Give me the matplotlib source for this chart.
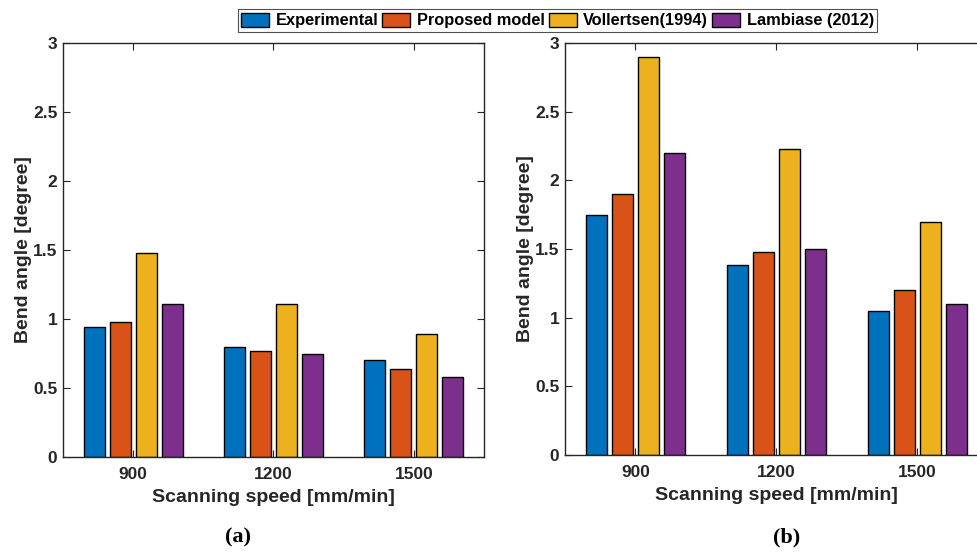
import numpy as np
import matplotlib.pyplot as plt
import matplotlib as mpl

plt.rcParams['font.family'] = ['Liberation Sans', 'DejaVu Sans']
plt.rcParams['font.weight'] = 'bold'
plt.rcParams['axes.linewidth'] = 1.0

# bend angle vs scanning speed, two material cases
speeds = ['900', '1200', '1500']
series = ['Experimental', 'Proposed model', 'Vollertsen(1994)', 'Lambiase (2012)']
colors = ['#0072BD', '#D95319', '#EDB120', '#7E2F8E']

angle_a = [
    [0.94, 0.80, 0.70],  # Experimental
    [0.98, 0.77, 0.64],  # Proposed model
    [1.48, 1.11, 0.89],  # Vollertsen
    [1.11, 0.75, 0.58],  # Lambiase
]
angle_b = [
    [1.75, 1.38, 1.05],
    [1.90, 1.48, 1.20],
    [2.90, 2.23, 1.70],
    [2.20, 1.50, 1.10],
]

fig = plt.figure(figsize=(9.78, 5.52), dpi=100)
ax1 = fig.add_axes([0.0644, 0.1721, 0.4305, 0.75])
ax2 = fig.add_axes([0.5777, 0.1757, 0.4325, 0.7464])

x = np.arange(1, len(speeds) + 1)
width = 0.15
pitch = 0.185
dark = '#262626'

for ax, data in [(ax1, angle_a), (ax2, angle_b)]:
    for i, (vals, name, c) in enumerate(zip(data, series, colors)):
        ax.bar(x + (i - 1.5) * pitch, vals, width, color=c, edgecolor='black',
               linewidth=1.0, label=name)
    ax.set_xlim(0.5, 3.5)
    ax.set_ylim(0, 3)
    ax.set_xticks(x)
    ax.set_xticklabels(speeds)
    ax.set_yticks([0, 0.5, 1, 1.5, 2, 2.5, 3])
    ax.set_yticklabels(['0', '0.5', '1', '1.5', '2', '2.5', '3'])
    ax.tick_params(direction='in', length=5, width=0.8, top=True, right=True,
                   labelsize=12.5, colors=dark, labelcolor=dark, pad=4)
    ax.tick_params(axis='x', pad=7)
    for s in ax.spines.values():
        s.set_color(dark)
    ax.set_xlabel('Scanning speed [mm/min]', fontsize=14, fontweight='bold',
                  color=dark, labelpad=5)
    ax.set_ylabel('Bend angle [degree]', fontsize=14, fontweight='bold',
                  color=dark, labelpad=1)

fig.text(0.243, 0.027, '(a)', family='Liberation Serif', fontsize=16,
         fontweight='bold', ha='center', va='center')
fig.text(0.804, 0.027, '(b)', family='Liberation Serif', fontsize=16,
         fontweight='bold', ha='center', va='center')

handles, labels = ax1.get_legend_handles_labels()
leg = fig.legend(handles, labels, loc='center', bbox_to_anchor=(0.570, 0.963),
                 ncol=4, fontsize=11.8, frameon=True, fancybox=False,
                 handlelength=1.7, handleheight=0.95, handletextpad=0.4,
                 columnspacing=0.25, borderpad=0.2, borderaxespad=0)
leg.get_frame().set_edgecolor(dark)
leg.get_frame().set_linewidth(0.8)

fig.savefig('out.png', dpi=100)
